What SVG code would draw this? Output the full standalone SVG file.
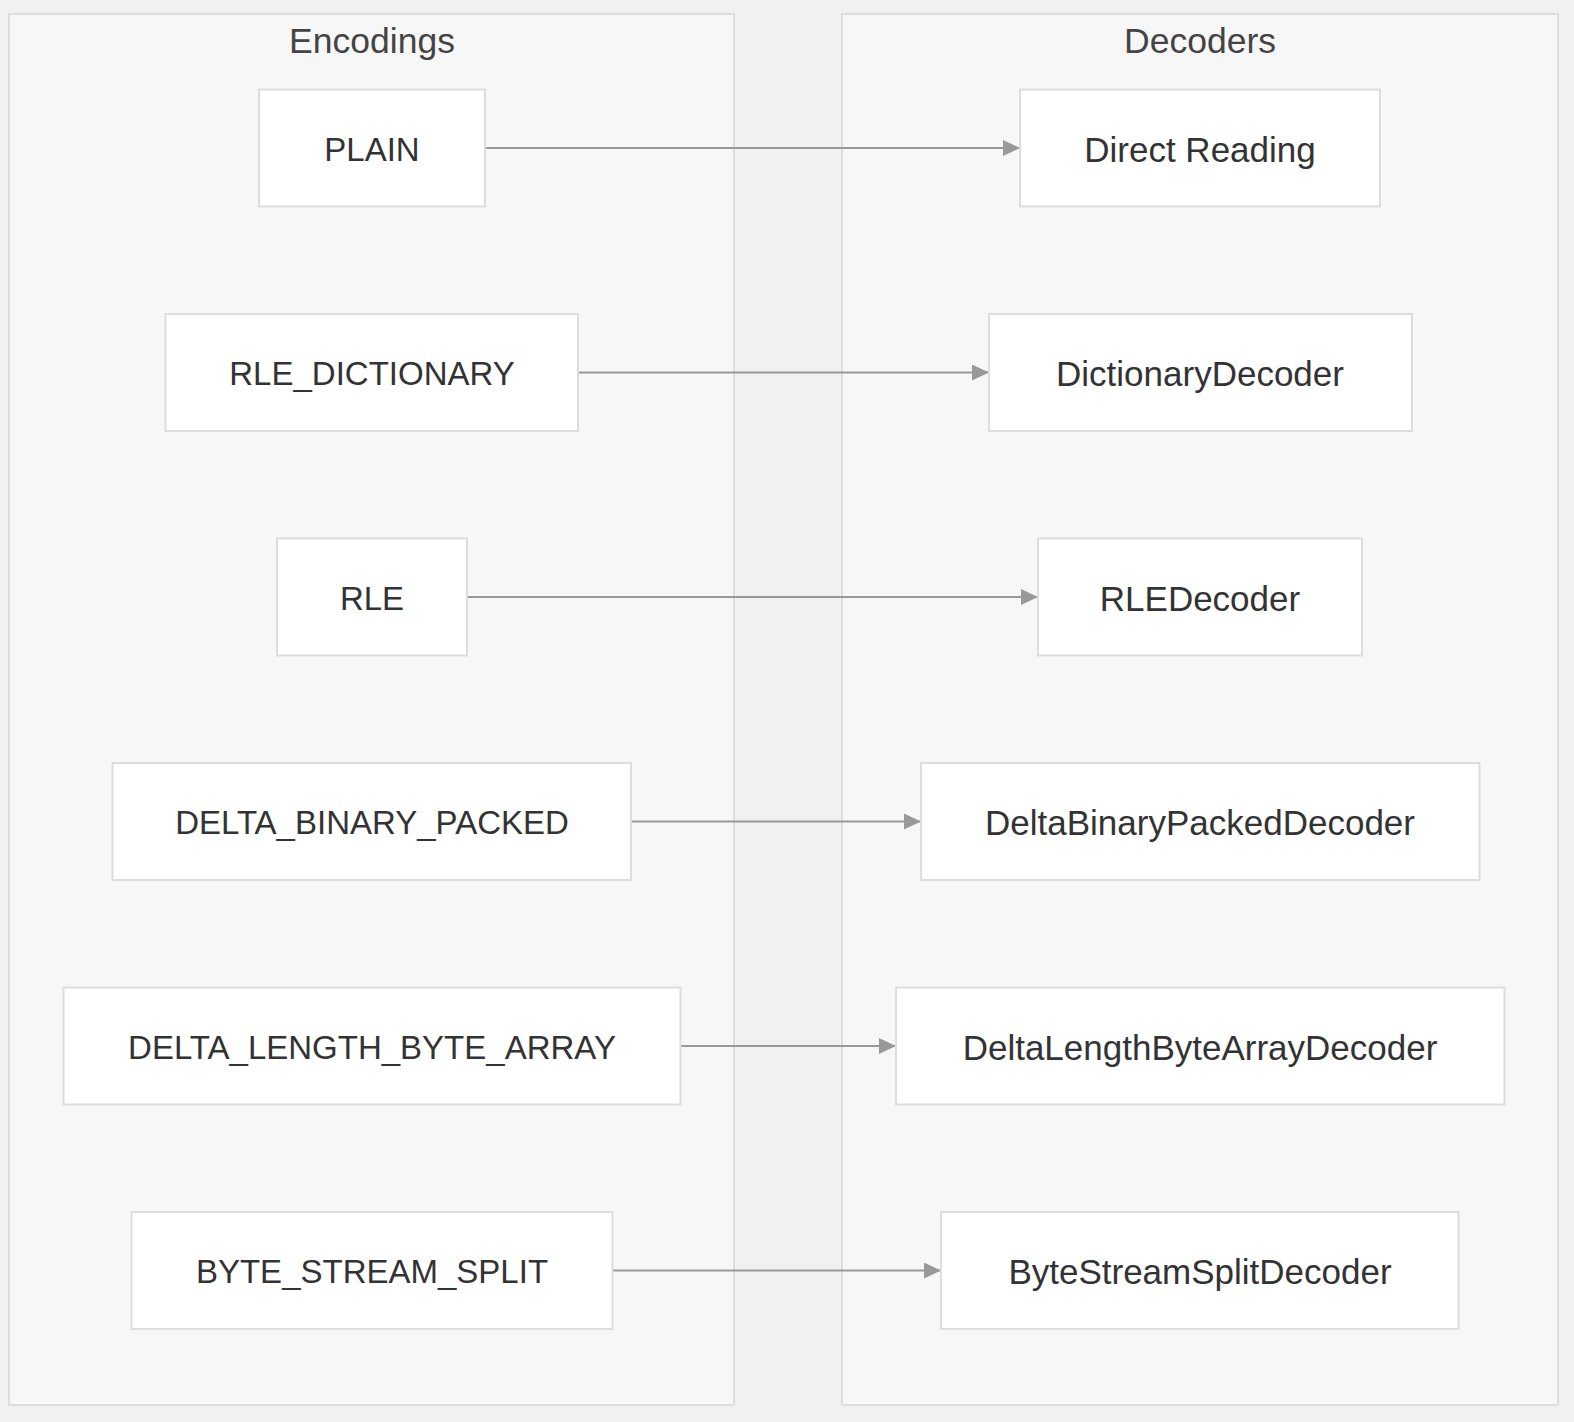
<svg xmlns="http://www.w3.org/2000/svg" width="1574" height="1422" viewBox="0 0 1574 1422">
<style>
.bg{fill:#f2f1f0}
.cluster{fill:#f7f7f7;stroke:#dddddd;stroke-width:2}
.ctitle{font-family:"Liberation Sans",Arial,sans-serif;font-size:35.5px;fill:#444444;text-anchor:middle}
.node rect{fill:#ffffff;stroke:#dddddd;stroke-width:2}
.node text{font-family:"Liberation Sans",Arial,sans-serif;font-size:35px;fill:#333333;text-anchor:middle}
.node text.caps{font-size:33px}
.edge{stroke:#999999;stroke-width:2;fill:none}
</style>
<defs>
<marker id="arrow" markerUnits="userSpaceOnUse" markerWidth="18" markerHeight="18" refX="17" refY="8" orient="auto">
<path d="M0,0 L17,8 L0,16 Z" fill="#999999"/>
</marker>
</defs>
<rect class="bg" x="0" y="0" width="1574" height="1422"/>
<g id="cluster-encodings">
<rect class="cluster" x="9" y="14" width="725" height="1391"/>
<text class="ctitle" x="372" y="53">Encodings</text>
</g>
<g id="cluster-decoders">
<rect class="cluster" x="842" y="14" width="716" height="1391"/>
<text class="ctitle" x="1200" y="53">Decoders</text>
</g>
<g id="edges">
<line class="edge" x1="485" y1="148" x2="1020" y2="148" marker-end="url(#arrow)"/>
<line class="edge" x1="578" y1="372.5" x2="989" y2="372.5" marker-end="url(#arrow)"/>
<line class="edge" x1="467" y1="597" x2="1038" y2="597" marker-end="url(#arrow)"/>
<line class="edge" x1="631" y1="821.5" x2="921" y2="821.5" marker-end="url(#arrow)"/>
<line class="edge" x1="680" y1="1046" x2="896" y2="1046" marker-end="url(#arrow)"/>
<line class="edge" x1="613" y1="1270.5" x2="941" y2="1270.5" marker-end="url(#arrow)"/>
</g>
<g id="node-plain" class="node">
<rect x="259" y="89.5" width="226" height="117"/>
<text class="caps" x="372" y="160.5">PLAIN</text>
</g>
<g id="node-rle-dictionary" class="node">
<rect x="165.5" y="314" width="412.5" height="117"/>
<text class="caps" x="372" y="385">RLE_DICTIONARY</text>
</g>
<g id="node-rle" class="node">
<rect x="277" y="538.5" width="190" height="117"/>
<text class="caps" x="372" y="609.5">RLE</text>
</g>
<g id="node-delta-binary-packed" class="node">
<rect x="112.5" y="763" width="518.5" height="117"/>
<text class="caps" x="372" y="834">DELTA_BINARY_PACKED</text>
</g>
<g id="node-delta-length-byte-array" class="node">
<rect x="63.5" y="987.5" width="617" height="117"/>
<text class="caps" x="372" y="1058.5">DELTA_LENGTH_BYTE_ARRAY</text>
</g>
<g id="node-byte-stream-split" class="node">
<rect x="131.5" y="1212" width="481" height="117"/>
<text class="caps" x="372" y="1283">BYTE_STREAM_SPLIT</text>
</g>
<g id="node-direct-reading" class="node">
<rect x="1020" y="89.5" width="360" height="117"/>
<text x="1200" y="161.5">Direct Reading</text>
</g>
<g id="node-dictionary-decoder" class="node">
<rect x="989" y="314" width="423" height="117"/>
<text x="1200" y="386">DictionaryDecoder</text>
</g>
<g id="node-rle-decoder" class="node">
<rect x="1038" y="538.5" width="324" height="117"/>
<text x="1200" y="610.5">RLEDecoder</text>
</g>
<g id="node-delta-binary-packed-decoder" class="node">
<rect x="921" y="763" width="558.5" height="117"/>
<text x="1200" y="835">DeltaBinaryPackedDecoder</text>
</g>
<g id="node-delta-length-byte-array-decoder" class="node">
<rect x="896" y="987.5" width="608.5" height="117"/>
<text x="1200" y="1059.5">DeltaLengthByteArrayDecoder</text>
</g>
<g id="node-byte-stream-split-decoder" class="node">
<rect x="941" y="1212" width="517.5" height="117"/>
<text x="1200" y="1284">ByteStreamSplitDecoder</text>
</g>
</svg>
